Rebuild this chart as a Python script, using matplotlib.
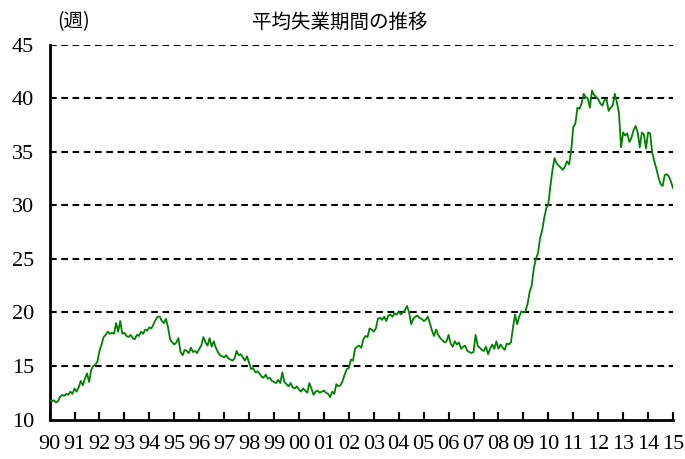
import numpy as np
import matplotlib as mpl
mpl.use("Agg")
import matplotlib.pyplot as plt

# average duration of unemployment (weeks), monthly, Jan 1990 - Jan 2015
weeks = {
    1990: [11.8, 11.7, 11.8, 11.6, 11.7, 12.1, 12.3, 12.2, 12.4, 12.3, 12.6, 12.4],
    1991: [12.9, 12.6, 13.0, 13.6, 13.2, 13.8, 14.3, 13.5, 14.6, 15.0, 15.1, 15.4],
    1992: [16.4, 17.0, 17.7, 17.9, 18.2, 18.0, 18.1, 18.0, 19.0, 18.2, 19.2, 18.0],
    1993: [18.1, 17.8, 17.7, 17.9, 17.6, 17.5, 17.9, 17.8, 18.2, 18.0, 18.4, 18.3],
    1994: [18.6, 18.5, 18.9, 19.3, 19.6, 19.6, 19.2, 19.0, 19.4, 18.6, 17.5, 17.2],
    1995: [17.0, 17.2, 17.6, 16.3, 16.0, 16.5, 16.4, 16.2, 16.7, 16.3, 16.4, 16.2],
    1996: [16.6, 16.9, 17.7, 17.2, 16.9, 17.6, 16.8, 17.3, 16.7, 16.3, 16.0, 15.9],
    1997: [15.8, 16.0, 15.7, 15.6, 15.5, 15.7, 16.4, 16.0, 16.1, 15.8, 15.5, 15.9],
    1998: [15.3, 14.7, 14.8, 14.4, 14.5, 14.3, 14.0, 13.9, 14.2, 13.8, 13.9, 13.6],
    1999: [13.5, 13.4, 13.7, 13.4, 14.4, 13.5, 13.3, 13.1, 13.4, 13.0, 12.9, 13.1],
    2000: [12.8, 12.6, 12.9, 12.7, 12.5, 13.4, 12.9, 12.3, 12.6, 12.7, 12.5, 12.6],
    2001: [12.7, 12.5, 12.4, 12.1, 12.6, 12.4, 13.3, 13.1, 13.2, 13.6, 14.2, 14.7],
    2002: [14.8, 15.6, 15.5, 16.6, 16.8, 16.9, 16.7, 17.5, 17.8, 17.7, 18.5, 18.4],
    2003: [18.2, 18.5, 19.4, 19.5, 19.3, 19.6, 19.2, 19.7, 19.8, 19.6, 19.9, 19.8],
    2004: [20.1, 19.8, 20.0, 20.2, 20.6, 20.0, 18.9, 19.4, 19.6, 19.7, 19.5, 19.4],
    2005: [19.2, 19.3, 19.6, 19.0, 18.3, 17.8, 18.4, 17.9, 17.6, 17.4, 17.2, 17.3],
    2006: [17.9, 17.1, 16.8, 17.3, 17.0, 17.2, 16.6, 16.8, 16.9, 16.4, 16.3, 16.2],
    2007: [16.3, 17.9, 16.9, 16.7, 16.5, 16.4, 16.8, 16.1, 16.6, 17.0, 16.6, 17.3],
    2008: [16.6, 17.0, 16.7, 16.5, 17.1, 17.0, 17.2, 18.6, 19.8, 18.9, 19.6, 20.1],
    2009: [20.0, 20.1, 20.8, 21.9, 22.5, 24.1, 25.0, 25.5, 26.9, 27.6, 28.8, 29.7],
    2010: [30.1, 31.8, 33.3, 34.4, 33.9, 33.7, 33.5, 33.3, 33.6, 34.1, 33.8, 35.1],
    2011: [37.3, 37.6, 39.1, 39.0, 39.5, 40.4, 40.1, 40.0, 39.1, 40.7, 40.3, 40.1],
    2012: [39.9, 39.5, 39.3, 39.8, 39.9, 38.8, 39.1, 39.3, 40.4, 39.6, 38.6, 35.4],
    2013: [36.8, 36.5, 36.7, 35.9, 36.3, 37.0, 37.4, 36.8, 35.4, 36.8, 36.6, 35.3],
    2014: [36.8, 36.7, 34.9, 34.1, 33.4, 32.6, 32.0, 31.8, 32.8, 32.9, 32.7, 32.2],
    2015: [31.6],
}

values = [v for yr in sorted(weeks) for v in weeks[yr]]
t = 1990 + np.arange(len(values)) / 12.0

year_labels = ["%02d" % (y % 100) for y in range(1990, 2016)]
y_ticks = [10, 15, 20, 25, 30, 35, 40, 45]

serif = "Liberation Serif"
jp = ["Noto Sans CJK JP", "DejaVu Sans"]

fig = plt.figure(figsize=(6.85, 4.59), dpi=100)
ax = fig.add_axes([0.0724, 0.086, 0.9101, 0.817])

for yv in y_ticks[1:]:
    ax.axhline(yv, color="black", lw=1.5, linestyle=(0, (3.2, 2.2)), zorder=1)

ax.plot(t, values, color="#008000", lw=1.3, zorder=3)

ax.set_xlim(1990, 2015)
ax.set_ylim(10, 45)
ax.set_xticks(range(1990, 2016))
ax.set_xticklabels(year_labels, fontfamily=serif, fontsize=16)
ax.set_yticks(y_ticks)
ax.set_yticklabels([str(v) for v in y_ticks], fontfamily=serif, fontsize=16)

ax.tick_params(axis="x", direction="in", length=6, width=1.5, pad=11)
ax.tick_params(axis="y", length=0, pad=11)

for s in ["top", "right"]:
    ax.spines[s].set_visible(False)
for s in ["left", "bottom"]:
    ax.spines[s].set_linewidth(2)

fig.text(0.496, 0.952, "平均失業期間の推移", family=jp, fontsize=14,
         ha="center", va="center")
fig.text(0.108, 0.952, "(週)", family=jp, fontsize=14,
         ha="center", va="center")

fig.savefig("out.png", dpi=100)
